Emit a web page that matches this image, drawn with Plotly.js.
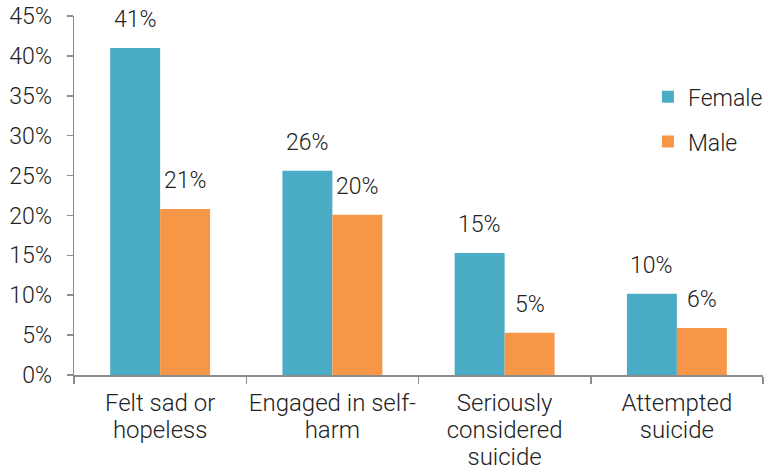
<!DOCTYPE html>
<html>
<head>
<meta charset="utf-8">
<script src="https://cdn.plot.ly/plotly-3.0.1.min.js"></script>
<style>html,body{margin:0;padding:0;background:#fff;}#chart{width:768px;height:473px;}</style>
</head>
<body>
<div id="chart"></div>
<script>
const categoryLines = [["Felt sad or", "hopeless"], ["Engaged in self-", "harm"], ["Seriously", "considered", "suicide"], ["Attempted", "suicide"]];
const femaleValues = [41, 25.6, 15.3, 10.2];
const maleValues = [20.8, 20.1, 5.3, 5.9];
const yTickVals = [0, 5, 10, 15, 20, 25, 30, 35, 40, 45];
const yTickText = ["0%", "5%", "10%", "15%", "20%", "25%", "30%", "35%", "40%", "45%"];

const FONT = "Roboto, 'Open Sans', sans-serif";
const TXT = "#222222";
const NUM_FS = 23;

const categories = categoryLines.map(lines => lines.join(" "));
const categoryLabels = categoryLines.map(lines => lines.map(l => "<span style='font-size:24px'>" + l + "</span>").join("<br>"));

const traces = [
  {type: "bar", name: "Female", x: categories, y: femaleValues, legendgroup: "f",
   marker: {color: "#4BACC6"}, hoverinfo: "skip"},
  {type: "bar", name: "Male", x: categories, y: maleValues, legendgroup: "m",
   marker: {color: "#F79646"}, hoverinfo: "skip"}
];

const annotations = [];
categories.forEach((c, i) => {
  annotations.push({x: c, y: femaleValues[i], xref: "x", yref: "y", text: Math.round(femaleValues[i]) + "%",
    showarrow: false, xshift: -25, yanchor: "bottom", yshift: 13, font: {family: FONT, size: NUM_FS, color: TXT, weight: 300}});
  annotations.push({x: c, y: maleValues[i], xref: "x", yref: "y", text: Math.round(maleValues[i]) + "%",
    showarrow: false, xshift: 25, yanchor: "bottom", yshift: 13, font: {family: FONT, size: NUM_FS, color: TXT, weight: 300}});
});

const layout = {
  width: 768, height: 473,
  margin: {l: 74, r: 0, t: 16, b: 98},
  paper_bgcolor: "#fff", plot_bgcolor: "#fff",
  font: {family: FONT, size: NUM_FS, color: TXT, weight: 300},
  barmode: "group", bargap: 0.42, bargroupgap: 0,
  showlegend: true,
  legend: {x: 0.833, y: 0.835, xanchor: "left", yanchor: "top", bgcolor: "rgba(0,0,0,0)",
    font: {family: FONT, size: 23, color: TXT, weight: 300}, tracegroupgap: 12, traceorder: "grouped"},
  xaxis: {type: "category", showline: true, linecolor: "#8c8c8c", linewidth: 1.5, showgrid: false,
    tickvals: categories, ticktext: categoryLabels, tickangle: 0, automargin: false,
    ticks: "outside", tickson: "boundaries", ticklen: 7, tickcolor: "#8c8c8c", tickwidth: 1.5,
    ticklabelstandoff: 10,
    tickfont: {family: FONT, size: 20.7, color: TXT, weight: 300}, fixedrange: true},
  yaxis: {range: [0, 45], tickvals: yTickVals, ticktext: yTickText, showline: true, linecolor: "#8c8c8c",
    linewidth: 1.5, showgrid: false, zeroline: false, ticks: "outside", ticklen: 6, tickcolor: "#8c8c8c",
    tickwidth: 1.5, ticklabelstandoff: 10, automargin: false,
    tickfont: {family: FONT, size: NUM_FS, color: TXT, weight: 300}, fixedrange: true},
  annotations: annotations
};

Plotly.newPlot("chart", traces, layout, {displayModeBar: false, staticPlot: true});
</script>
</body>
</html>
